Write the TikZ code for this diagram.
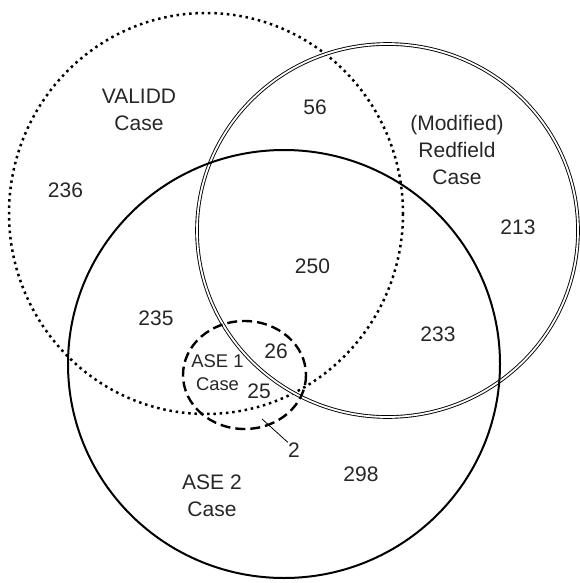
\documentclass[tikz,border=0pt]{standalone}
\usepackage{fontspec}
\setmainfont{Liberation Sans}
\usetikzlibrary{positioning}
\tikzset{
  validd/.style={draw=black, line width=1.25pt, dash pattern=on 1.25pt off 1.9pt},
  redfield/.style={draw=black, line width=0.45pt, double=white, double distance=0.9pt},
  asetwo/.style={draw=black, line width=1pt},
  aseone/.style={draw=black, line width=1.2pt, dash pattern=on 5pt off 2.5pt},
  lbl/.style={align=center, text=black!85, inner sep=1pt, font=\fontsize{10.5}{13.5}\selectfont},
  small/.style={align=center, text=black!85, inner sep=1pt, font=\fontsize{9.2}{11.5}\selectfont},
  leader/.style={draw=black, line width=0.4pt}
}
\begin{document}
\begin{tikzpicture}[x=0.5pt, y=-0.5pt]
  \useasboundingbox (0,0) rectangle (579,583);
  % the four sets
  \draw[validd] (206,213.5) ellipse [x radius=197, y radius=200.5];
  \draw[redfield] (387.5,230.5) ellipse [x radius=190.5, y radius=186.5];
  \draw[asetwo] (284,364) ellipse [x radius=216, y radius=214];
  \draw[aseone] (244.5,375) ellipse [x radius=61.5, y radius=54];
  % set names
  \node[lbl] (validdname) at (139,110) {VALIDD\\Case};
  \node[lbl] (redname) at (457,150) {(Modified)\\Redfield\\Case};
  \node[lbl] (asetwoname) at (212,495.5) {ASE 2\\Case};
  \node[small] (aseonename) at (217.5,372.5) {ASE 1\\Case};
  % counts
  \node[lbl] (n236) at (65.5,190) {236};
  \node[lbl] (n56) at (315,107) {56};
  \node[lbl] (n213) at (518,227) {213};
  \node[lbl] (n250) at (312.5,266) {250};
  \node[lbl] (n235) at (156,318.5) {235};
  \node[lbl] (n233) at (438,334) {233};
  \node[lbl] (n26) at (276,351) {26};
  \node[lbl] (n25) at (259,391.5) {25};
  \node[lbl] (n298) at (361,474.5) {298};
  \node[lbl] (n2) at (294,450) {2};
  \coordinate (tip) at (262,419);
  \draw[leader] (tip) -- ([xshift=1pt,yshift=-1pt]n2.north west);
\end{tikzpicture}
\end{document}
